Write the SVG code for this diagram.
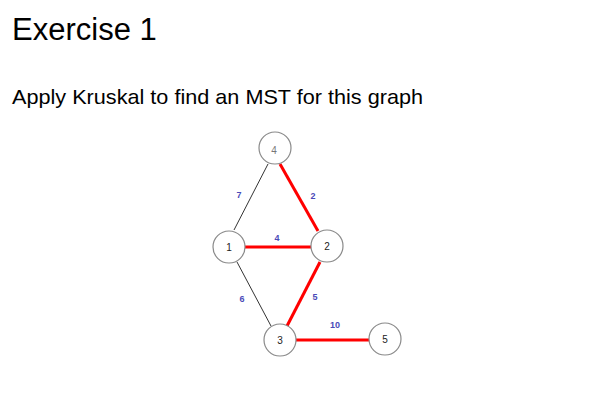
<svg xmlns="http://www.w3.org/2000/svg" width="601" height="403" viewBox="0 0 601 403">
<style>
.title{font-family:"Liberation Sans",Arial,sans-serif;font-size:31px;fill:#000}
.sub{font-family:"Liberation Sans",Arial,sans-serif;font-size:21px;fill:#000}
.node circle{fill:#fff;stroke:#8a8a8a;stroke-width:1.2}
.node text{font-family:"Liberation Sans",Arial,sans-serif;font-size:10px;fill:#222;text-anchor:middle;dominant-baseline:central}
.mst{stroke:#ff0000;stroke-width:3;fill:none}
.edge{stroke:#333;stroke-width:1;fill:none}
.w{font-family:"Liberation Sans",Arial,sans-serif;font-size:9px;font-weight:bold;fill:#4a4ab8;text-anchor:middle;dominant-baseline:central}
</style>
<rect width="601" height="403" fill="#fff"/>
<text class="title" x="12" y="40">Exercise 1</text>
<text class="sub" x="12" y="104" textLength="411" lengthAdjust="spacingAndGlyphs">Apply Kruskal to find an MST for this graph</text>
<g id="connectors">
<line class="edge" x1="268" y1="164" x2="234" y2="230"/>
<line class="mst" x1="280" y1="164" x2="318" y2="231"/>
<line class="mst" x1="245" y1="247" x2="311" y2="247"/>
<line class="edge" x1="237" y1="262" x2="271" y2="326"/>
<line class="mst" x1="320" y1="262" x2="287" y2="326"/>
<line class="mst" x1="296" y1="340" x2="370" y2="340"/>
<text class="w" x="239" y="195">7</text>
<text class="w" x="313" y="196">2</text>
<text class="w" x="277" y="238">4</text>
<text class="w" x="242" y="299">6</text>
<text class="w" x="315" y="297">5</text>
<text class="w" x="335" y="325">10</text>
</g>
<g id="node4" class="node"><circle cx="275" cy="148" r="16"/><text x="274" y="150" style="fill:#777">4</text></g>
<g id="node1" class="node"><circle cx="229" cy="247" r="16"/><text x="229" y="247">1</text></g>
<g id="node2" class="node"><circle cx="327" cy="246" r="16"/><text x="327" y="246">2</text></g>
<g id="node3" class="node"><circle cx="280" cy="340" r="16"/><text x="280" y="340">3</text></g>
<g id="node5" class="node"><circle cx="385" cy="339" r="16"/><text x="385" y="339">5</text></g>
</svg>
